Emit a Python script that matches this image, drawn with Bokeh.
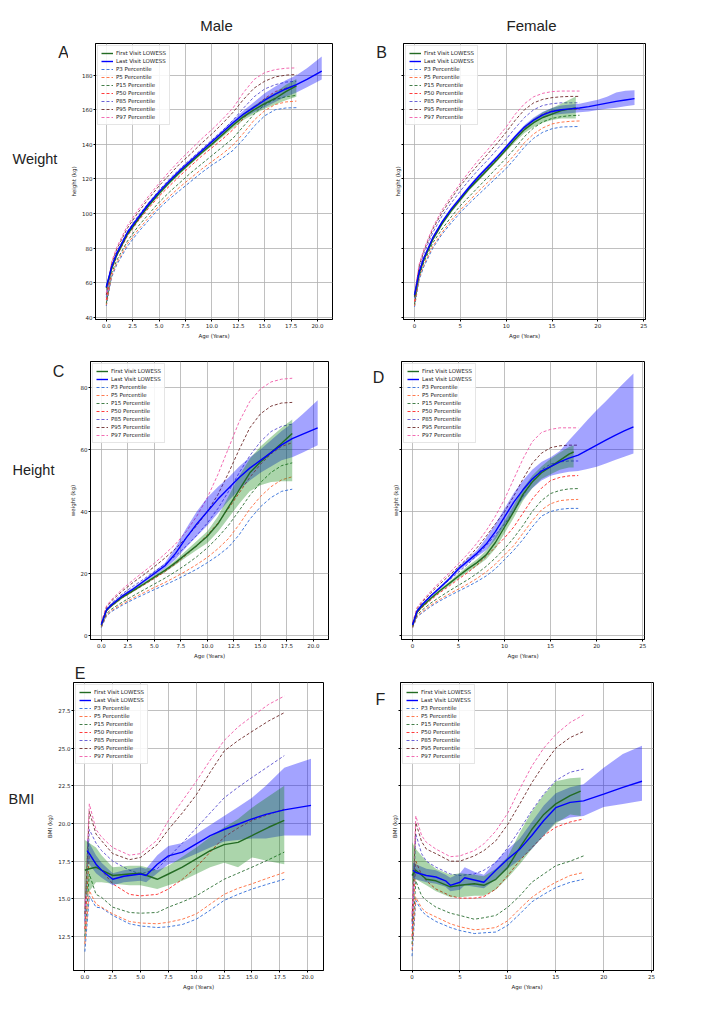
from bokeh.plotting import figure
from bokeh.layouts import column, row
from bokeh.models import (Range1d, FixedTicker, PrintfTickFormatter,
                          CustomJSTickFormatter, Legend, LegendItem)
from bokeh.core.properties import value
from bokeh.embed import file_html
from bokeh.resources import INLINE

# percentile reference curves
pct_names = ["P3", "P5", "P15", "P50", "P85", "P95", "P97"]
pct_colors = ["#2f6bd8", "#ff6a3a", "#2e6f34", "#ff2626", "#5a50d0", "#6e2a2a", "#f05aa8"]

age_hw = [0, 0.5, 1, 2, 3, 4, 5, 6, 7, 8, 9, 10, 11, 12, 13, 14, 15, 16, 17, 18]
age_bmi = [0, 0.4, 1, 1.5, 2.5, 4, 5, 6.5, 7.5, 8.75, 10, 11.25, 12.5, 13.75, 15, 16.5, 17.9]

# ---- A: male height
a_pct = [
    [46.5, 63, 70.5, 81, 89, 96, 103, 108.5, 113.5, 118.5, 123.5, 128, 132, 136.5, 143, 150.5, 156.5, 160, 161, 161.2],
    [47, 64, 71.5, 82.5, 90.5, 97.5, 104.5, 110, 115.5, 120.5, 125.5, 130, 134.5, 139.5, 146.5, 154, 159.5, 163, 164.5, 165],
    [48, 65.5, 73, 84, 92.5, 99.5, 106.5, 112.5, 118, 123.5, 128.5, 133.5, 138.5, 143.5, 150.5, 157.5, 163, 166, 167.5, 168.3],
    [50, 67.5, 75.5, 87, 95.5, 103, 110, 116, 122, 127.5, 133, 138, 143, 148.5, 155, 161.5, 166.5, 170.5, 172.5, 173.7],
    [51.5, 69.5, 78, 89.5, 98.5, 106, 113.5, 120, 126, 131.5, 137, 142.5, 148, 154, 161, 167.5, 172, 174.5, 176, 176.5],
    [53, 71, 79.5, 91.5, 100.5, 108.5, 116, 122.5, 129, 134.5, 140.5, 146, 152, 158.5, 166, 172.5, 176.5, 179, 180, 180.4],
    [54, 72, 80.5, 93, 102, 110, 117.5, 124.5, 131, 137, 143, 148.5, 154.5, 161, 170, 177.5, 181.5, 183.2, 184, 184.2],
]
a_first_age = age_hw
a_first = [57, 68, 76, 88, 96.5, 104.5, 111.5, 118, 124, 129.5, 135, 140, 145.5, 151, 156, 160, 163.5, 166.5, 170.5, 173.8]
a_first_lo = [55, 67, 75, 87, 95.5, 103.5, 110.5, 117, 123, 128.5, 134, 139, 144.3, 149.5, 154, 157.5, 160.5, 163, 165.5, 167.5]
a_first_hi = [59, 69, 77, 89, 97.5, 105.5, 112.5, 119, 125, 130.5, 136, 141, 146.7, 152.5, 158, 162.5, 166.5, 170, 174.5, 177.8]
a_last_age = [0, 0.5, 1, 2, 3, 4, 5, 6, 7, 8, 9, 10, 11, 12, 13, 14, 15, 16, 17, 18, 19, 20.4]
a_last = [57.5, 69, 77, 89, 97.5, 105.5, 112.5, 119, 125, 130.5, 136, 141.5, 147, 152.5, 157.5, 161.5, 165.5, 169, 172, 174.5, 177.5, 182.3]
a_last_lo = [56, 68, 76, 88, 96.5, 104.5, 111.5, 118, 124, 129.5, 135, 140.5, 145.8, 151, 155.5, 158.5, 161.5, 164.5, 167.5, 170, 173, 177.5]
a_last_hi = [59, 70, 78, 90, 98.5, 106.5, 113.5, 120, 126, 131.5, 137, 142.5, 148.2, 154, 159.5, 164.5, 169.5, 173.5, 177, 180, 184, 190.8]

# ---- B: female height
b_pct = [
    [46, 61.5, 69, 80, 88, 94.5, 100.5, 106, 111, 116, 121, 126, 132, 138.5, 143.5, 147, 149, 150, 150.2, 150.3],
    [46.5, 62.5, 70, 81, 89, 96, 102, 107.5, 113, 118, 123, 128.5, 134.5, 141, 146, 149.5, 151.8, 152.8, 153.3, 153.5],
    [47.5, 63.5, 71.5, 83, 91, 98, 104.5, 110, 115.5, 121, 126.5, 132, 138, 144.5, 149.5, 153, 155, 156, 156.6, 156.8],
    [49, 66, 74, 86, 95, 102, 109, 115, 120.5, 126, 131.5, 137, 143, 149, 154, 157.5, 159.3, 160, 160.3, 160.3],
    [51, 68, 76.5, 89, 98.5, 106, 113, 119.5, 125.5, 131, 137, 143, 149.5, 155.5, 160, 162.5, 163.5, 164, 164, 164],
    [52, 69.5, 78, 91, 100.5, 108.5, 116, 122.5, 128.5, 134.5, 140.5, 147, 154, 160, 164, 166, 167, 167.5, 167.7, 167.7],
    [53, 70.5, 79, 92, 102, 110, 117.5, 124.5, 131, 137, 143.5, 150, 157.5, 163.5, 167.5, 169.5, 170.5, 170.8, 170.8, 170.8],
]
b_first_age = [0, 0.5, 1, 2, 3, 4, 5, 6, 7, 8, 9, 10, 11, 12, 13, 14, 15, 16, 17, 17.6]
b_first = [52, 65, 73, 85, 94, 101.5, 108, 114.5, 120, 125.5, 131, 137, 143, 148.5, 152.5, 155.5, 157.5, 159.5, 160.5, 161]
b_first_lo = [51, 64, 72, 84, 93, 100.5, 107, 113.5, 119, 124.5, 130, 135.8, 141.5, 146.5, 150, 152.5, 154, 155, 155, 155]
b_first_hi = [53, 66, 74, 86, 95, 102.5, 109, 115.5, 121, 126.5, 132, 138.2, 144.5, 150.5, 155, 158.5, 161, 163.5, 166, 167.6]
b_last_age = [0, 0.5, 1, 2, 3, 4, 5, 6, 7, 8, 9, 10, 11, 12, 13, 14, 15, 16, 17, 18, 19, 20, 21, 22, 23, 24]
b_last = [53, 66, 74, 86, 95, 102.5, 109, 115.5, 121.5, 127, 132.5, 138.5, 144.5, 150, 154, 157, 159, 160, 160.5, 161,
          161.8, 162.8, 163.8, 164.8, 165.6, 166.4]
b_last_lo = [52, 65, 73, 85, 94, 101.5, 108, 114.5, 120.5, 126, 131.5, 137.5, 143.5, 148.8, 152.5, 155.2, 157, 157.6, 158, 158.5,
             159, 159.8, 160.5, 161.2, 162, 162.7]
b_last_hi = [54, 67, 75, 87, 96, 103.5, 110, 116.5, 122.5, 128, 133.5, 139.5, 145.5, 151.2, 155.5, 158.8, 161, 162.4, 163, 163.5,
             164.6, 165.8, 167.5, 170, 171, 171.2]

# ---- C: male weight
c_pct = [
    [2.5, 6.4, 7.8, 9.8, 11.6, 13.2, 14.8, 16.3, 17.9, 19.6, 21.4, 23.5, 25.8, 28.5, 32.5, 37.5, 41.5, 44.5, 46.5, 47.2],
    [2.7, 6.7, 8.1, 10.2, 12.1, 13.8, 15.5, 17.1, 18.9, 20.8, 22.9, 25.2, 28.0, 31.3, 35.8, 40.8, 44.8, 48.0, 50.2, 51.2],
    [2.9, 7.1, 8.6, 10.8, 12.8, 14.7, 16.6, 18.5, 20.6, 22.9, 25.4, 28.3, 31.7, 35.6, 40.3, 45.2, 49.3, 52.6, 54.8, 55.7],
    [3.3, 7.9, 9.6, 12.2, 14.3, 16.3, 18.4, 20.6, 23.1, 26.0, 29.0, 32.4, 36.3, 41.0, 46.0, 51.0, 55.2, 58.6, 61.0, 62.2],
    [3.7, 8.7, 10.6, 13.5, 15.9, 18.2, 20.6, 23.0, 25.7, 28.8, 32.3, 36.3, 41.0, 46.5, 52.5, 58.0, 62.5, 65.8, 67.5, 68.2],
    [4.0, 9.3, 11.3, 14.4, 17.1, 19.6, 22.2, 25.0, 28.0, 31.5, 35.5, 40.0, 45.5, 52.5, 60.0, 67.0, 71.5, 74.0, 75.0, 75.2],
    [4.2, 9.6, 11.7, 15.0, 17.9, 20.6, 23.3, 26.3, 29.5, 33.5, 38.5, 44.5, 52.0, 60.5, 69.0, 75.5, 79.5, 81.8, 82.7, 83.0],
]
c_first_age = age_hw
c_first = [3.5, 8.2, 9.8, 12.4, 14.5, 16.6, 18.8, 21.0, 23.5, 26.3, 29.0, 32.0, 36.0, 41.5, 47.0, 52.5, 56.0, 59.0, 62.0, 65.2]
c_first_lo = [3.0, 7.7, 9.3, 11.9, 14.0, 16.1, 18.3, 20.4, 22.7, 25.2, 27.6, 29.8, 33.5, 38.0, 42.5, 46.5, 48.5, 49.5, 49.8, 49.8]
c_first_hi = [4.0, 8.7, 10.3, 12.9, 15.0, 17.1, 19.3, 21.6, 24.3, 27.4, 30.5, 33.6, 38.5, 45.0, 51.5, 57.0, 61.0, 64.0, 67.0, 69.7]
c_last_age = a_last_age
c_last = [3.5, 8.3, 10.0, 12.8, 15.0, 17.5, 20.0, 22.5, 26.5, 31.5, 36.0, 40.0, 44.0, 47.5, 51.0, 54.0, 56.5, 59.0, 61.5, 63.5, 65.0, 67.0]
c_last_lo = [3.0, 7.8, 9.5, 12.3, 14.5, 17.0, 19.3, 21.6, 24.5, 28.5, 32.0, 35.5, 39.5, 43.5, 47.0, 50.0, 52.5, 54.5, 56.5, 57.5, 59.0, 61.4]
c_last_hi = [4.0, 8.8, 10.5, 13.3, 15.5, 18.0, 20.7, 23.4, 28.5, 34.5, 40.0, 44.5, 48.0, 51.0, 54.5, 57.5, 60.0, 63.0, 66.0, 68.5, 71.5, 75.9]

# ---- D: female weight
d_pct = [
    [2.4, 6.0, 7.2, 9.4, 11.2, 12.8, 14.3, 15.8, 17.4, 19.2, 21.5, 24.5, 27.5, 31.0, 35.0, 38.5, 40.0, 40.7, 41.0, 41.0],
    [2.5, 6.3, 7.5, 9.8, 11.7, 13.4, 15.0, 16.6, 18.4, 20.5, 23.0, 26.0, 29.0, 33.0, 37.0, 40.5, 42.5, 43.5, 43.8, 43.9],
    [2.8, 6.7, 8.1, 10.5, 12.5, 14.4, 16.2, 18.0, 20.0, 22.3, 25.0, 28.0, 31.5, 35.5, 40.0, 43.5, 45.8, 46.8, 47.3, 47.4],
    [3.2, 7.3, 8.9, 11.5, 13.9, 16.0, 18.2, 20.3, 22.7, 25.5, 28.5, 31.5, 35.0, 39.5, 44.0, 47.5, 50.0, 51.0, 51.5, 51.6],
    [3.6, 8.1, 9.9, 12.8, 15.5, 17.9, 20.4, 23.0, 25.8, 29.0, 32.5, 36.0, 40.0, 45.0, 50.0, 53.5, 55.3, 56.0, 56.3, 56.3],
    [3.9, 8.7, 10.6, 13.8, 16.7, 19.4, 22.2, 25.0, 28.3, 32.0, 36.0, 40.0, 45.0, 50.5, 55.5, 58.8, 60.6, 61.2, 61.4, 61.4],
    [4.1, 9.0, 11.0, 14.3, 17.4, 20.2, 23.2, 26.3, 29.8, 33.8, 38.5, 44.0, 50.5, 57.0, 62.5, 65.5, 66.5, 67.0, 67.0, 67.0],
]
d_first_age = [0, 0.5, 1, 2, 3, 4, 5, 6, 7, 8, 9, 10, 11, 12, 13, 14, 15, 16, 17, 17.5]
d_first = [3.3, 7.6, 9.3, 12.0, 14.5, 16.8, 19.2, 21.5, 23.5, 26.0, 30.0, 35.0, 40.0, 45.5, 49.5, 52.5, 54.5, 56.5, 58.5, 59.2]
d_first_lo = [2.9, 7.2, 8.9, 11.6, 14.0, 16.2, 18.5, 20.6, 22.4, 24.6, 28.0, 33.0, 38.0, 43.5, 47.5, 50.5, 52.0, 53.5, 54.2, 54.2]
d_first_hi = [3.7, 8.0, 9.7, 12.4, 15.0, 17.4, 19.9, 22.4, 24.6, 27.4, 32.0, 37.0, 42.0, 47.5, 51.5, 54.5, 57.0, 59.0, 60.8, 61.4]
d_last_age = b_last_age
d_last = [3.4, 7.9, 9.8, 12.8, 15.5, 18.3, 21.5, 24.0, 26.5, 29.5, 33.5, 38.3, 43.0, 47.0, 50.5, 53.0, 54.5, 56.0, 57.2, 58.2,
          59.8, 61.4, 63.0, 64.6, 66.0, 67.3]
d_last_lo = [3.0, 7.5, 9.4, 12.4, 15.0, 17.8, 20.8, 23.2, 25.5, 27.5, 31.0, 35.5, 40.0, 44.0, 47.5, 50.0, 51.5, 52.3, 52.8, 53.1,
             53.7, 54.4, 55.5, 56.6, 57.7, 58.7]
d_last_hi = [3.8, 8.3, 10.2, 13.2, 16.0, 18.8, 22.2, 24.8, 27.5, 31.5, 36.0, 41.0, 46.0, 50.0, 53.5, 56.0, 57.5, 59.5, 63.0, 66.2,
             69.5, 72.7, 75.6, 78.6, 81.6, 84.5]

# ---- E: male BMI
e_pct = [
    [11.5, 15.2, 14.45, 14.4, 13.9, 13.35, 13.2, 13.1, 13.15, 13.3, 13.65, 14.25, 14.9, 15.3, 15.65, 16.0, 16.3],
    [12.0, 15.55, 14.65, 14.45, 14.0, 13.5, 13.4, 13.35, 13.45, 13.65, 14.0, 14.65, 15.3, 15.7, 16.0, 16.4, 16.75],
    [12.5, 16.65, 15.3, 15.1, 14.45, 14.1, 14.05, 14.1, 14.45, 14.8, 15.2, 15.75, 16.3, 16.7, 17.1, 17.6, 18.1],
    [13.0, 18.0, 17.3, 16.9, 16.0, 15.3, 15.2, 15.3, 15.65, 16.3, 17.1, 18.1, 19.1, 19.7, 20.2, 20.6, 20.95],
    [13.5, 19.6, 18.7, 18.2, 17.5, 16.9, 16.65, 17.0, 17.75, 18.7, 19.7, 20.7, 21.7, 22.4, 23.05, 23.8, 24.5],
    [14.0, 20.8, 19.3, 18.85, 18.0, 17.6, 17.75, 18.6, 19.6, 20.7, 21.9, 23.4, 24.8, 25.5, 26.1, 26.8, 27.35],
    [14.5, 21.3, 19.6, 19.1, 18.4, 17.9, 18.0, 18.9, 20.2, 21.5, 22.8, 24.2, 25.5, 26.4, 27.1, 27.9, 28.45],
]
e_first_age = age_bmi
e_first = [16.9, 17.0, 17.1, 16.9, 16.55, 16.65, 16.7, 16.3, 16.65, 17.1, 17.65, 18.2, 18.6, 18.75, 19.2, 19.75, 20.2]
e_first_lo = [15.1, 15.5, 16.1, 16.1, 16.0, 15.9, 15.9, 15.65, 15.9, 16.2, 16.65, 17.1, 17.4, 17.1, 17.75, 17.5, 17.3]
e_first_hi = [18.9, 18.7, 18.4, 17.9, 17.1, 17.2, 17.2, 16.9, 17.2, 17.8, 18.4, 19.1, 19.75, 20.3, 21.05, 21.8, 22.5]
e_last_age = [0.2, 0.4, 1, 1.5, 2.5, 3.5, 5, 5.5, 6.5, 7.5, 8.75, 10, 11.25, 12.5, 13.75, 15, 16.25, 17.9, 20.3]
e_last = [18.2, 18.0, 17.3, 16.9, 16.3, 16.5, 16.65, 16.55, 17.3, 17.85, 18.1, 18.65, 19.2, 19.6, 19.95, 20.3, 20.6, 20.9, 21.2]
e_last_lo = [17.4, 17.3, 16.7, 16.4, 15.9, 16.1, 16.2, 16.1, 16.7, 17.3, 17.6, 18.0, 18.4, 18.8, 18.9, 19.0, 19.0, 19.2, 19.2]
e_last_hi = [19.0, 18.7, 17.9, 17.4, 16.7, 16.9, 17.1, 17.0, 17.9, 18.5, 18.7, 19.3, 19.9, 20.5, 21.1, 21.7, 22.5, 23.7, 24.3]

# ---- F: female BMI
f_pct = [
    [11.2, 14.9, 14.2, 13.9, 13.5, 13.1, 12.9, 12.7, 12.75, 12.8, 13.25, 14.0, 14.8, 15.3, 15.75, 16.1, 16.3],
    [11.6, 15.1, 14.4, 14.1, 13.8, 13.35, 13.15, 12.95, 13.0, 13.1, 13.55, 14.35, 15.1, 15.65, 16.1, 16.55, 16.75],
    [12.0, 16.2, 15.2, 14.9, 14.45, 14.05, 13.9, 13.65, 13.75, 13.9, 14.45, 15.2, 16.1, 16.65, 17.2, 17.5, 17.85],
    [12.5, 17.5, 16.6, 16.2, 15.65, 15.2, 15.05, 15.05, 15.15, 15.65, 16.55, 17.55, 18.4, 19.2, 19.75, 20.1, 20.3],
    [13.0, 19.3, 18.0, 17.5, 17.1, 16.65, 16.55, 16.65, 16.9, 17.4, 18.4, 19.6, 20.85, 21.95, 22.85, 23.4, 23.6],
    [13.5, 20.05, 18.8, 18.3, 18.0, 17.5, 17.5, 17.85, 18.2, 18.85, 19.95, 21.3, 22.7, 23.9, 25.0, 25.7, 26.1],
    [14.0, 20.5, 19.2, 18.75, 18.3, 17.8, 17.85, 18.2, 18.65, 19.5, 20.7, 22.3, 23.8, 25.0, 25.9, 26.7, 27.2],
]
f_first_age = [0, 0.4, 1.5, 2.5, 4, 5, 6.5, 7.5, 8.75, 10, 11.25, 12.5, 13.75, 15, 16.5, 17.6]
f_first = [16.55, 16.9, 16.3, 16.2, 15.8, 15.9, 16.0, 15.9, 16.3, 17.1, 18.4, 19.6, 20.6, 21.3, 21.85, 22.15]
f_first_lo = [15.9, 16.3, 15.9, 15.5, 15.1, 15.1, 15.2, 15.2, 15.6, 16.4, 17.3, 18.3, 19.2, 20.0, 20.6, 20.5]
f_first_hi = [18.75, 18.3, 17.5, 17.0, 16.6, 16.7, 16.6, 16.5, 17.0, 17.8, 19.4, 20.8, 21.9, 22.8, 23.0, 23.05]
f_last_age = [0.1, 0.4, 1.5, 2.5, 3.5, 4, 5, 5.5, 6.5, 7.5, 8.75, 10, 11.25, 12.5, 13.75, 15, 16.5, 17.9, 20, 22, 24]
f_last = [16.9, 16.75, 16.55, 16.45, 16.2, 15.9, 16.1, 16.4, 16.25, 16.1, 16.9, 17.65, 18.3, 19.2, 20.2, 21.05, 21.4, 21.5,
          21.95, 22.4, 22.8]
f_last_lo = [16.4, 16.3, 16.1, 16.0, 15.8, 15.5, 15.6, 15.9, 15.8, 15.7, 16.3, 17.0, 17.6, 18.3, 19.2, 20.1, 20.4, 20.5,
             21.1, 21.3, 21.5]
f_last_hi = [17.4, 17.3, 17.0, 16.9, 16.6, 16.4, 16.7, 17.1, 16.8, 16.6, 17.5, 18.3, 19.0, 20.1, 21.2, 22.0, 22.4, 22.6,
             23.7, 24.6, 25.15]

ticks_m = [0, 2.5, 5, 7.5, 10, 12.5, 15, 17.5, 20]
ticks_f = [0, 5, 10, 15, 20, 25]

TXT = "#222222"


def make_panel(width, height, borders, x_range, y_range, x_ticks, x_fmt, y_ticks, y_fmt,
               y_label, pct_age, pct_vals, first, last):
    left, right, top, bottom = borders
    p = figure(width=width, height=height, x_range=x_range, y_range=y_range,
               min_border_left=left, min_border_right=right,
               min_border_top=top, min_border_bottom=bottom,
               output_backend="svg", toolbar_location=None)
    p.outline_line_color = "black"
    p.outline_line_width = 1
    p.background_fill_color = "white"
    p.border_fill_color = "white"

    # percentile curves
    pct_r = []
    for vals, color in zip(pct_vals, pct_colors):
        pct_r.append(p.line(pct_age, vals, line_color=color, line_width=0.9, line_dash="3 2"))

    # confidence bands, then lowess lines
    f_age, f_mid, f_lo, f_hi = first
    l_age, l_mid, l_lo, l_hi = last
    p.varea(x=l_age, y1=l_lo, y2=l_hi, fill_color="#0000ff", fill_alpha=0.36)
    p.varea(x=f_age, y1=f_lo, y2=f_hi, fill_color="#008000", fill_alpha=0.33)
    g = p.line(f_age, f_mid, line_color="#236b23", line_width=1.4)
    b = p.line(l_age, l_mid, line_color="#0000ff", line_width=1.4)

    items = [LegendItem(label="First Visit LOWESS", renderers=[g]),
             LegendItem(label="Last Visit LOWESS", renderers=[b])]
    items += [LegendItem(label=n + " Percentile", renderers=[r]) for n, r in zip(pct_names, pct_r)]
    legend = Legend(items=items, location="top_left", margin=2, padding=3, spacing=0,
                    label_height=8, glyph_height=8, glyph_width=12, label_standoff=3,
                    label_text_font_size="5.5px", label_text_font="DejaVu Sans",
                    label_text_color=TXT, border_line_color="#cccccc",
                    background_fill_alpha=0.85)
    p.add_layout(legend)

    p.xaxis.ticker = FixedTicker(ticks=x_ticks)
    p.yaxis.ticker = FixedTicker(ticks=y_ticks)
    p.xgrid.ticker = FixedTicker(ticks=x_ticks)
    p.ygrid.ticker = FixedTicker(ticks=y_ticks)
    p.xaxis.formatter = PrintfTickFormatter(format=x_fmt)
    if y_fmt:
        p.yaxis.formatter = PrintfTickFormatter(format=y_fmt)
    else:
        p.yaxis.formatter = CustomJSTickFormatter(code="return ''")
    p.xaxis.axis_label = "Age (Years)"
    p.yaxis.axis_label = y_label
    for ax in (p.xaxis[0], p.yaxis[0]):
        ax.major_label_text_font_size = "5.5px"
        ax.major_label_text_font = "DejaVu Sans"
        ax.major_label_text_color = TXT
        ax.axis_label_text_font_size = "5.5px"
        ax.axis_label_text_font = "DejaVu Sans"
        ax.axis_label_text_font_style = "normal"
        ax.axis_label_text_color = TXT
        ax.major_tick_out = 2
        ax.major_tick_in = 0
        ax.minor_tick_out = 0
        ax.minor_tick_in = 0
        ax.major_label_standoff = 1
        ax.axis_label_standoff = 1 if y_fmt is None and ax is p.yaxis[0] else 2
        ax.axis_line_color = "black"
    p.grid.grid_line_color = "#b0b0b0"
    p.grid.grid_line_width = 0.8
    return p


def text_strip(width, height, texts):
    # a bare figure used only to hold free text (x right, y up, in pixels)
    s = figure(width=width, height=height, x_range=Range1d(0, width), y_range=Range1d(0, height),
               x_axis_location=None, y_axis_location=None, min_border=0,
               min_border_left=0, min_border_right=0, min_border_top=0, min_border_bottom=0,
               output_backend="svg", toolbar_location=None)
    s.grid.visible = False
    s.outline_line_color = None
    s.background_fill_color = "white"
    s.border_fill_color = "white"
    for text, x, y, size, align in texts:
        s.text(x=[x], y=[y], text=[text], text_font=value("Liberation Sans"),
               text_font_size=value(size), text_align=align, text_baseline="middle",
               text_color=TXT)
    return s


xr_m = Range1d(-1.02, 21.42)
xr_f = Range1d(-1.2, 25.2)
yr_h = Range1d(38.7, 198.3)
yr_w = Range1d(-1.3, 88.4)
yr_b = Range1d(10.25, 29.35)

yt_h = [40, 60, 80, 100, 120, 140, 160, 180]
yt_w = [0, 20, 40, 60, 80]
yt_b = [12.5, 15, 17.5, 20, 22.5, 25, 27.5]

pa = make_panel(304, 309, (22, 40, 7, 26), xr_m, yr_h, ticks_m, "%.1f", yt_h, "%d", "height (kg)",
                age_hw, a_pct, (a_first_age, a_first, a_first_lo, a_first_hi),
                (a_last_age, a_last, a_last_lo, a_last_hi))
pb = make_panel(314, 309, (15, 57, 7, 26), xr_f, yr_h, ticks_f, "%d", yt_h, None, "height (kg)",
                age_hw, b_pct, (b_first_age, b_first, b_first_lo, b_first_hi),
                (b_last_age, b_last, b_last_lo, b_last_hi))
pc = make_panel(306, 320, (20, 44, 16, 26), xr_m, yr_w, ticks_m, "%.1f", yt_w, "%d", "weight (kg)",
                age_hw, c_pct, (c_first_age, c_first, c_first_lo, c_first_hi),
                (c_last_age, c_last, c_last_lo, c_last_hi))
pd_ = make_panel(314, 320, (13, 58, 16, 26), xr_f, yr_w, ticks_f, "%d", yt_w, None, "weight (kg)",
                 age_hw, d_pct, (d_first_age, d_first, d_first_lo, d_first_hi),
                 (d_last_age, d_last, d_last_lo, d_last_hi))
pe = make_panel(328, 314, (26, 49, 1, 25), xr_m, yr_b, ticks_m, "%.1f", yt_b, "%.1f", "BMI (kg)",
                age_bmi, e_pct, (e_first_age, e_first, e_first_lo, e_first_hi),
                (e_last_age, e_last, e_last_lo, e_last_hi))
pf = make_panel(314, 330, (11, 49, 17, 25), xr_f, yr_b, ticks_f, "%d", yt_b, None, "BMI (kg)",
                age_bmi, f_pct, (f_first_age, f_first, f_first_lo, f_first_hi),
                (f_last_age, f_last, f_last_lo, f_last_hi))

# column titles, row labels and panel letters
header = text_strip(702, 36, [("Male", 216, 11, "15px", "center"),
                              ("Female", 531, 11, "15px", "center")])
s1a = text_strip(68, 309, [("Weight", 12, 180, "14.5px", "left"), ("A", 63, 299, "16px", "center")])
s2a = text_strip(16, 309, [("B", 9, 299, "16px", "center")])
s1b = text_strip(66, 320, [("Height", 12, 195, "14.5px", "left"), ("C", 58, 309, "16px", "center")])
s2b = text_strip(16, 320, [("D", 6, 302, "16px", "center")])
s1c = text_strip(44, 330, [("BMI", 8, 196, "14.5px", "left")])
t3e = text_strip(328, 16, [("E", 8.5, 8, "16px", "center")])
s2c = text_strip(16, 330, [("F", 8, 311, "16px", "center")])

layout = column(
    header,
    row(s1a, pa, s2a, pb),
    row(s1b, pc, s2b, pd_),
    row(s1c, column(t3e, pe), s2c, pf),
)
open("out.html", "w").write(file_html(layout, INLINE))
